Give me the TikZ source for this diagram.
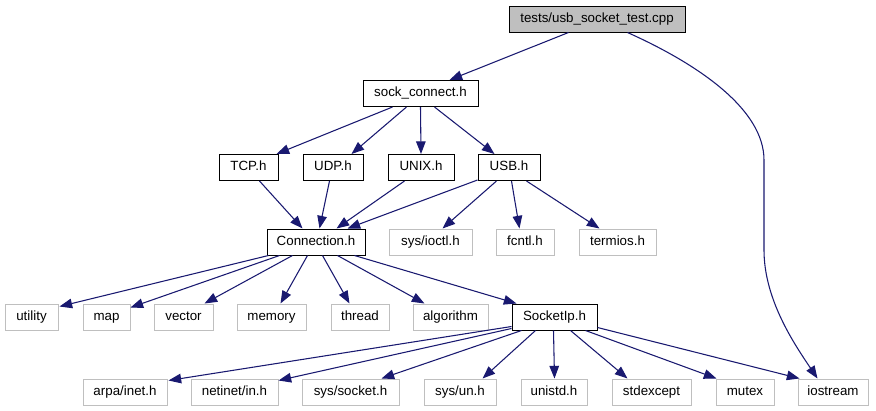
\documentclass[tikz,border=0pt]{standalone}
\usepackage{fontspec}
\setmainfont{Liberation Sans}
\usetikzlibrary{arrows.meta,calc}
\definecolor{edgec}{HTML}{191970}
\definecolor{grayb}{HTML}{BFBFBF}
\begin{document}
\begin{tikzpicture}[x=0.75pt,y=-0.75pt,
  W/.style={minimum width=#1*0.75pt},
  bbox/.style={draw=black,line width=0.75pt,minimum height=19.5pt,inner sep=0pt,
    text height=7.3pt,text depth=2.1pt,font=\fontsize{10}{12}\selectfont},
  gbox/.style={bbox,draw=grayb},
  topbox/.style={bbox,fill=grayb},
  e/.style={draw=edgec,line width=0.8pt,-{Triangle[length=9.5pt,width=7.2pt]}}]
\useasboundingbox (0,0) rectangle (876,411);
% nodes
\node[topbox,W=176] (tests) at (597,19) {tests/usb\_socket\_test.cpp};
\node[bbox,W=115] (sc) at (420.5,93.5) {sock\_connect.h};
\node[bbox,W=59] (tcp) at (248.5,167.5) {TCP.h};
\node[bbox,W=60] (udp) at (333,167.5) {UDP.h};
\node[bbox,W=66] (unix) at (421,167.5) {UNIX.h};
\node[bbox,W=62] (usb) at (509,167.5) {USB.h};
\node[bbox,W=98] (conn) at (316,242) {Connection.h};
\node[gbox,W=83] (ioctl) at (430.5,242) {sys/ioctl.h};
\node[gbox,W=58] (fcntl) at (525,242) {fcntl.h};
\node[gbox,W=77] (termios) at (617.5,242) {termios.h};
\node[gbox,W=53] (utility) at (31.5,317) {utility};
\node[gbox,W=47] (map) at (106.5,317) {map};
\node[gbox,W=59] (vector) at (183.5,317) {vector};
\node[gbox,W=69] (memory) at (271.5,317) {memory};
\node[gbox,W=58] (thread) at (360,317) {thread};
\node[gbox,W=75] (algorithm) at (450.5,317) {algorithm};
\node[bbox,W=85] (sockip) at (554.5,317) {SocketIp.h};
\node[gbox,W=84] (arpa) at (125,392) {arpa/inet.h};
\node[gbox,W=87] (netinet) at (234.5,392) {netinet/in.h};
\node[gbox,W=97] (syssocket) at (350.5,392) {sys/socket.h};
\node[gbox,W=72] (sysun) at (460,392) {sys/un.h};
\node[gbox,W=66] (unistd) at (554,392) {unistd.h};
\node[gbox,W=79] (stdexcept) at (651.5,392) {stdexcept};
\node[gbox,W=58] (mutex) at (745,392) {mutex};
\node[gbox,W=70] (iostream) at (833,392) {iostream};
% edges
\draw[e] ($(tests.south west)+(60,0)$) -- ($(sc.north west)+(87,0)$);
\draw[e] ($(tests.south west)+(119,0)$) .. controls (700,65) and (764,110) .. (764,160)
   -- (764,250) .. controls (764,300) and (795,345) .. ($(iostream.north west)+(20,0)$);
\draw[e] ($(sc.south west)+(30,0)$) -- ($(tcp.north east)+(-2,0)$);
\draw[e] ($(sc.south west)+(44,0)$) -- ($(udp.north west)+(49,0)$);
\draw[e] ($(sc.south west)+(58,0)$) -- (unix.north);
\draw[e] ($(sc.south west)+(72,0)$) -- ($(usb.north west)+(17,0)$);
\draw[e] ($(tcp.south west)+(41,0)$) -- ($(conn.north west)+(36,0)$);
\draw[e] ($(udp.south west)+(27,0)$) -- ($(conn.north west)+(53,0)$);
\draw[e] ($(unix.south west)+(17,0)$) -- ($(conn.north west)+(70,0)$);
\draw[e] ($(usb.south west)+(0,-1)$) -- ($(conn.north west)+(81,0)$);
\draw[e] ($(usb.south west)+(19,0)$) -- ($(ioctl.north west)+(54,0)$);
\draw[e] ($(usb.south west)+(34,0)$) -- ($(fcntl.north west)+(24,0)$);
\draw[e] ($(usb.south west)+(49,0)$) -- ($(termios.north west)+(21,0)$);
\draw[e] ($(conn.south west)+(2,0)$) -- ($(utility.north east)+(1,3)$);
\draw[e] ($(conn.south west)+(13,0)$) -- ($(map.north east)+(0,4)$);
\draw[e] ($(conn.south west)+(26,0)$) -- ($(vector.north west)+(51,0)$);
\draw[e] ($(conn.south west)+(41,0)$) -- ($(memory.north west)+(44,0)$);
\draw[e] ($(conn.south west)+(56,0)$) -- ($(thread.north west)+(19,0)$);
\draw[e] ($(conn.south west)+(71,0)$) -- ($(algorithm.north west)+(12,0)$);
\draw[e] ($(conn.south west)+(88,0)$) -- ($(sockip.north west)+(5,0)$);
\draw[e] ($(sockip.south west)+(0,-4)$) -- ($(arpa.north east)+(1,2)$);
\draw[e] ($(sockip.south west)+(0,-2)$) -- ($(netinet.north east)+(0,2)$);
\draw[e] ($(sockip.south west)+(10,0)$) -- ($(syssocket.north west)+(80,0)$);
\draw[e] ($(sockip.south west)+(24,0)$) -- ($(sysun.north west)+(59,0)$);
\draw[e] ($(sockip.south west)+(42,0)$) -- ($(unistd.north west)+(34,0)$);
\draw[e] ($(sockip.south west)+(59,0)$) -- ($(stdexcept.north west)+(16,0)$);
\draw[e] ($(sockip.south west)+(74,0)$) -- ($(mutex.north west)+(1,0)$);
\draw[e] ($(sockip.south east)+(0,-3)$) -- ($(iostream.north west)+(2,0)$);
\end{tikzpicture}
\end{document}
